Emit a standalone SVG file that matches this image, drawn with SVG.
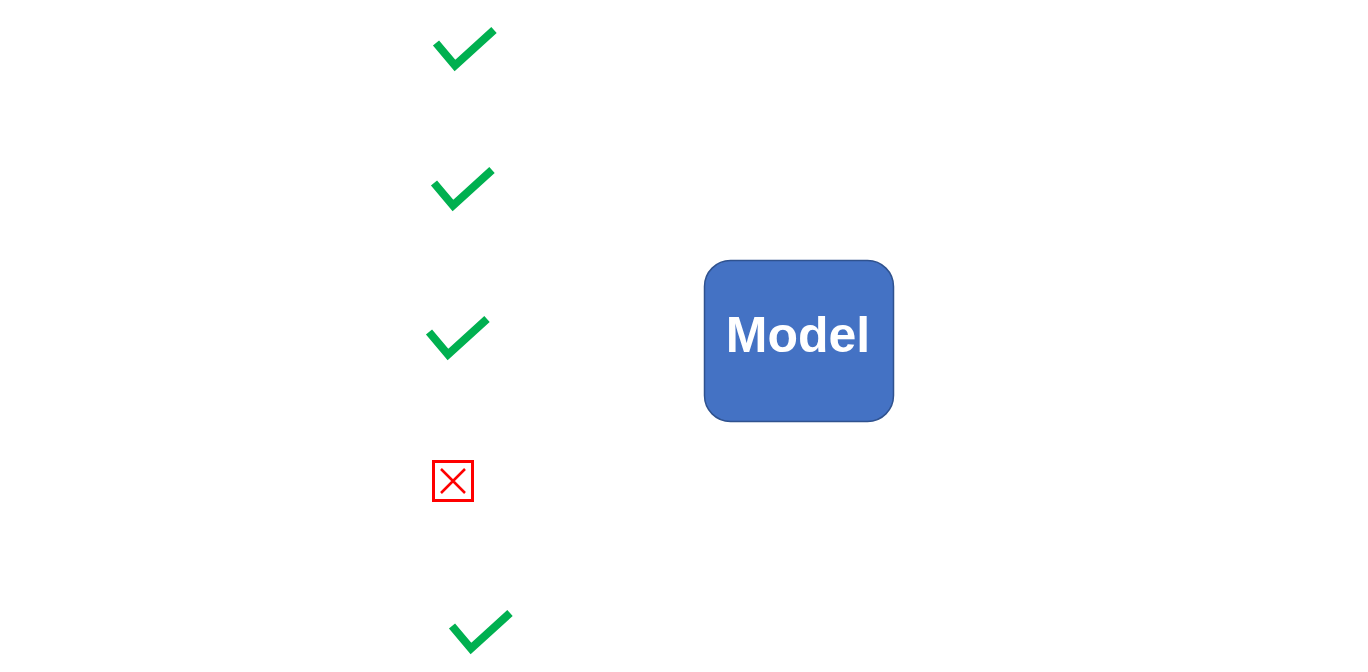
<svg xmlns="http://www.w3.org/2000/svg" width="1368" height="672" viewBox="0 0 1368 672">
<style>
.check{fill:none;stroke:#00B050;stroke-width:8;stroke-linecap:butt;stroke-linejoin:miter}
.cross{fill:none;stroke:#FF0000}
.box{fill:#4472C4;stroke:#2F528F;stroke-width:1.5}
.lbl{font-family:"Liberation Sans",Arial,sans-serif;font-weight:bold;font-size:50px;fill:#FFFFFF}
</style>
<rect width="1368" height="672" fill="#FFFFFF"/>
<g id="check1"><path class="check" d="M436,43 L455,65.5 L494,30"/></g>
<g id="check2"><path class="check" d="M434,183 L453,205.5 L492,170"/></g>
<g id="check3"><path class="check" d="M429,332 L448,354.5 L487,319"/></g>
<g id="cross4">
<rect class="cross" x="433.5" y="461.5" width="39" height="39" stroke-width="3"/>
<path class="cross" d="M441,469 L465,493 M465,469 L441,493" stroke-width="2.5"/>
</g>
<g id="check5"><path class="check" d="M452,626 L471,648.5 L510,613"/></g>
<g id="model">
<rect class="box" x="704.5" y="260.5" width="189" height="161" rx="26" ry="26"/>
<text class="lbl" x="798" y="352" text-anchor="middle">Model</text>
</g>
<g id="connectors"/>
</svg>
